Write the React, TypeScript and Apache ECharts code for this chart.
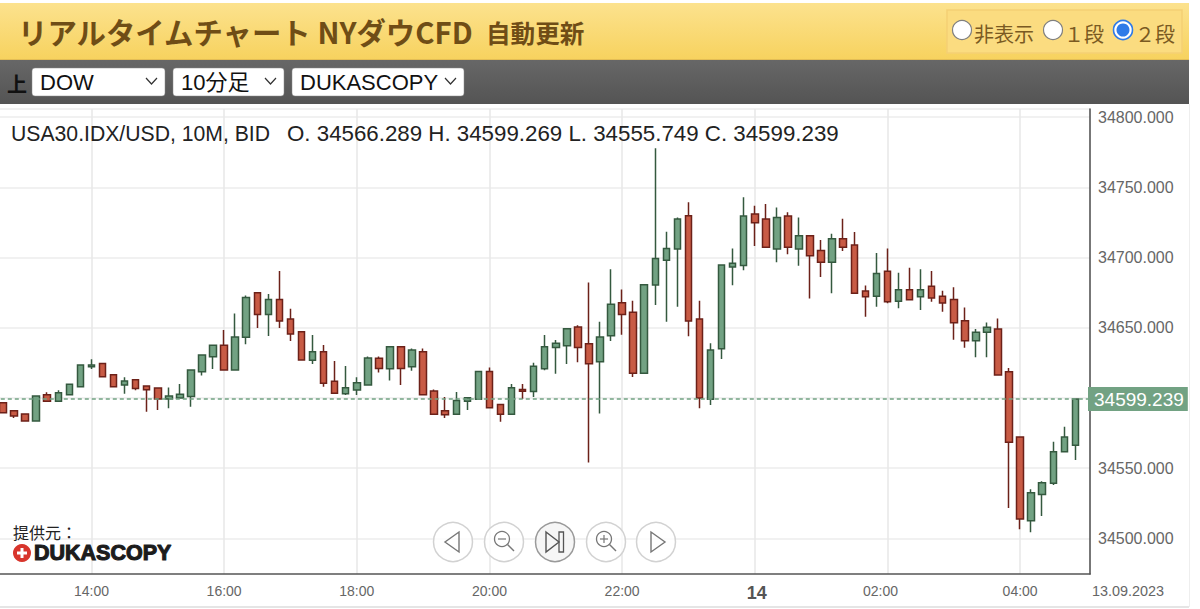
import React, { useEffect, useRef } from "react";
import * as echarts from "echarts";

const FIRST_MINUTE = 40; // minutes after 12:00 of the first 10-minute candle (12:40)
const STEP_MINUTES = 10;

const opens = [34596.6,34590.9,34588.6,34583.6,34602.3,34597.6,34602.3,34608,34622.3,34624.6,34616.6,34609.2,34613,34608.5,34607.1,34599.2,34600,34601.1,34618.7,34629.4,34637.5,34619.9,34643.2,34675,34659.5,34670.2,34656.2,34647.2,34626.8,34632.9,34611.8,34603,34605.6,34609.2,34628.2,34620.8,34636.5,34622.3,34632.9,34604.9,34590.9,34588.3,34597.6,34599,34618.9,34595.4,34588.3,34606.1,34604.5,34620.8,34636,34637.2,34650.5,34638.6,34625.8,34644.3,34667.8,34661,34617.5,34680.4,34698,34706,34729.8,34656.2,34599,34635.1,34693.2,34694.4,34731,34727.4,34706,34729.6,34706,34715.6,34705.1,34696.6,34713.4,34708.9,34676.2,34672.4,34690.2,34668.8,34677.1,34672.1,34679.5,34672.4,34670.2,34655,34640.8,34646.7,34649.1,34618.7,34572.2,34512.6,34531.3,34539.2,34561.7,34566.289];
const closes = [34589.5,34587.1,34583.6,34601.4,34597.6,34603.7,34609.7,34623.5,34623.5,34615.1,34608,34612,34606.8,34605.9,34599.2,34601.4,34602.6,34619.9,34630.6,34637.5,34619.9,34643.4,34671.6,34659.5,34670.2,34654.8,34645.5,34627,34632.9,34610.4,34603.3,34607.3,34610.9,34628.4,34621,34636.5,34621,34634.1,34602.3,34588.3,34588.1,34598.1,34600.2,34618.9,34593.1,34588.3,34607.3,34604.7,34622.5,34636.5,34638.9,34649.3,34636,34624.4,34643.4,34666.7,34659.5,34617.5,34680.7,34699.4,34706.5,34727.4,34654.8,34600,34634.1,34694.7,34695.9,34729.6,34724.8,34707.3,34728.6,34707.3,34715.6,34701.3,34696.6,34713.4,34707.3,34674.5,34672.1,34688.7,34668.6,34677.1,34670,34677.1,34671.2,34667.6,34653.6,34640.8,34646.7,34650.3,34616.3,34568.4,34513.8,34532.5,34539.6,34561.7,34572.2,34599.239];
const lows = [34589.5,34585.7,34583.6,34583.6,34597.6,34597.6,34602.3,34608,34620.6,34615.1,34608,34603,34605.4,34590.2,34591.4,34592.6,34600,34593.8,34615.9,34620.6,34619.9,34619.9,34638.2,34649.8,34644.1,34649.8,34640.5,34627,34624.2,34608,34603.3,34602.1,34602.1,34609.2,34618.2,34612.5,34609.2,34619.4,34602.3,34588.3,34585.7,34588.3,34591.4,34599,34593.1,34583.1,34588.3,34599.2,34600.7,34619.7,34617.3,34624.2,34625.4,34554.1,34589,34640.5,34645,34614.9,34617.5,34666.2,34654.3,34665,34643.9,34592.6,34595,34627.7,34680.2,34690.9,34708.2,34707.3,34696.6,34702.3,34694.2,34670.9,34686.1,34674.5,34704.6,34674.5,34657.9,34665,34667.4,34663.8,34670,34662.6,34668.6,34661.4,34641.5,34635.8,34628.9,34628.9,34616.3,34521.6,34506.4,34504.3,34515.9,34538,34561.7,34555.749];
const highs = [34596.6,34590.9,34588.6,34601.4,34604,34605.4,34609.7,34623.5,34627.5,34624.6,34616.6,34614.7,34613,34608.5,34607.1,34607.5,34609.9,34619.9,34630.6,34637.5,34648.4,34660.2,34673,34675,34674,34690.4,34663.6,34647.2,34644.8,34637.7,34626.3,34622.7,34614.7,34629.6,34629.6,34636.5,34636.5,34635.3,34635.3,34606.1,34600.7,34604.2,34600.2,34618.9,34621.6,34595.4,34609.9,34609.9,34625.1,34644.8,34641.3,34649.3,34651.7,34682.3,34654.3,34691.6,34677.3,34669.3,34680.7,34777.8,34718.4,34728.6,34739.3,34669.3,34638.9,34694.7,34706.5,34742.9,34736.9,34738.1,34735.7,34732.2,34728.6,34715.6,34712.5,34717,34727.7,34718.2,34680,34703.2,34706.5,34689.2,34692.8,34691.6,34690.4,34676.4,34678.8,34664.5,34649.1,34653.8,34656.5,34621.3,34572.2,34534.9,34540.6,34568.8,34579.5,34599.269];

const priceTicks = [34500, 34550, 34600, 34650, 34700, 34750, 34800];
const priceLabels = [34500, 34550, 34650, 34700, 34750, 34800];
const timeTickValues = [120, 240, 360, 480, 600, 720, 840, 960];
const timeTickLabels = ["14:00", "16:00", "18:00", "20:00", "22:00", "14", "02:00", "04:00"];
const lastPrice = 34599.239;
const infoInstrument = "USA30.IDX/USD, 10M, BID";
const infoPrices = "O. 34566.289 H. 34599.269 L. 34555.749 C. 34599.239";

const Y_MIN = 34474.6;
const Y_MAX = 34805.8;
const X_MAX = 1023.2;

const SANS = '"Liberation Sans", Arial, sans-serif';
const JP = '"Noto Sans CJK JP", sans-serif';

function text(x: number, y: number, t: string, font: string, fill: string, extra: any = {}) {
  return { type: "text", x, y, z: 20, silent: true, style: { text: t, font, fill, verticalAlign: "middle", ...extra } };
}
function rect(x: number, y: number, w: number, h: number, style: any, r = 0, z = 5) {
  return { type: "rect", z, silent: true, shape: { x, y, width: w, height: h, r }, style };
}
function line(x1: number, y1: number, x2: number, y2: number, stroke: string, lineWidth = 1.4) {
  return { type: "line", z: 22, silent: true, shape: { x1, y1, x2, y2 }, style: { stroke, lineWidth, fill: "none" } };
}
function circle(cx: number, cy: number, r: number, fill: string, stroke: string, lineWidth = 1.5, z = 21) {
  return { type: "circle", z, silent: true, shape: { cx, cy, r }, style: { fill, stroke, lineWidth } };
}
function poly(points: number[][], stroke: string) {
  return { type: "polygon", z: 22, silent: true, shape: { points }, style: { fill: "none", stroke, lineWidth: 1.4 } };
}
function selectBox(x: number, w: number, label: string) {
  const right = x + w;
  return [
    rect(x, 68, w, 28, { fill: "#ffffff", stroke: "#8a8a8a", lineWidth: 0.5 }, 3, 6),
    text(x + 8, 82, label, `22px ${SANS}, "Noto Sans CJK JP"`, "#111111"),
    { type: "polyline", z: 22, silent: true, shape: { points: [[right - 19, 78], [right - 13.5, 84], [right - 8, 78]] }, style: { stroke: "#333333", lineWidth: 1.2, fill: "none" } },
  ];
}
function zoomIcon(cx: number, plus: boolean) {
  const out: any[] = [
    circle(cx - 2, 539, 7.5, "none", "#777777", 1.3, 22),
    line(cx + 3.5, 544.5, cx + 10, 551, "#777777"),
    line(cx - 6, 539, cx + 2, 539, "#777777", 1.2),
  ];
  if (plus) out.push(line(cx - 2, 535, cx - 2, 543, "#777777", 1.2));
  return out;
}

export default function App() {
  const ref = useRef<HTMLDivElement>(null);
  useEffect(() => {
    document.body.style.margin = "0";
    document.body.style.background = "#ffffff";
    const chart = echarts.init(ref.current!, undefined, { renderer: "svg" });
    const rows = opens.map((o, i) => [FIRST_MINUTE + i * STEP_MINUTES, o, closes[i], lows[i], highs[i]]);
    chart.setOption({
      animation: false,
      backgroundColor: "#ffffff",
      grid: { left: -41.2, top: 109, width: 1131.2, height: 465, containLabel: false, outerBoundsMode: "none" },
      xAxis: {
        type: "value",
        min: 0,
        max: X_MAX,
        position: "bottom",
        axisLine: { show: true, onZero: false, lineStyle: { color: "#555555", width: 1.6 } },
        axisTick: { show: false, customValues: [...timeTickValues] },
        splitLine: { show: true, lineStyle: { color: "#e9e9e9", width: 1.6 } },
        axisLabel: {
          customValues: timeTickValues,
          margin: 10,
          color: "#666666",
          fontFamily: SANS,
          fontSize: 14,
          hideOverlap: false,
          formatter: (v: number) => {
            const t = timeTickLabels[timeTickValues.indexOf(v)] ?? "";
            if (t === "14") return "{day|14}";
            if (t === "02:00") return "{shift|02:00}";
            return t;
          },
          rich: {
            day: { fontFamily: SANS, fontSize: 18, fontWeight: "bold", color: "#555555", padding: [0, 0, 0, 4] },
            shift: { fontFamily: SANS, fontSize: 14, color: "#666666", padding: [0, 14, 0, 0] },
          },
        },
      },
      yAxis: {
        type: "value",
        position: "right",
        min: Y_MIN,
        max: Y_MAX,
        axisLine: { show: true, onZero: false, lineStyle: { color: "#555555", width: 1.6 } },
        axisTick: { show: false, customValues: [...priceTicks, Y_MAX] },
        splitLine: { show: true, lineStyle: { color: "#ededed", width: 1.6 } },
        axisLabel: {
          customValues: priceLabels,
          margin: 8,
          color: "#666666",
          fontFamily: SANS,
          fontSize: 16,
          formatter: (v: number) => v.toFixed(3),
        },
      },
      series: [
        {
          type: "candlestick",
          silent: true,
          barWidth: 7,
          data: rows,
          itemStyle: {
            color: "#72a283",
            color0: "#c85b45",
            borderColor: "#34593f",
            borderColor0: "#6c2119",
            borderWidth: 1.5,
          },
          markLine: {
            silent: true,
            symbol: "none",
            animation: false,
            lineStyle: { color: "#72a283", type: [4, 3], width: 1.5 },
            label: {
              show: true,
              position: "end",
              distance: -2,
              formatter: () => lastPrice.toFixed(3),
              backgroundColor: "#72a283",
              color: "#ffffff",
              fontFamily: SANS,
              fontSize: 19,
              padding: [3, 4, 2, 6],
            },
            data: [{ yAxis: lastPrice }],
          },
        },
      ],
      graphic: [
        // Header bars
        rect(0, 3, 1189, 57, { fill: new echarts.graphic.LinearGradient(0, 0, 0, 1, [{ offset: 0, color: "#fce28e" }, { offset: 1, color: "#f7d25e" }]) }),
        line(0, 59.5, 1189, 59.5, "#e3bd55", 1),
        rect(0, 60, 1189, 44, { fill: new echarts.graphic.LinearGradient(0, 0, 0, 1, [{ offset: 0, color: "#676767" }, { offset: 1, color: "#545454" }]) }),
        text(18, 31, "リアルタイムチャート NYダウCFD", `bold 29.4px ${JP}`, "#6f4d16"),
        text(486, 32, "自動更新", `bold 24.6px ${JP}`, "#6f4d16"),
        rect(947, 10, 235, 43, { fill: "#fbdc80", stroke: "#f5cf74", lineWidth: 1.5 }, 0, 6),
        circle(962, 30, 9.5, "#ffffff", "#808080", 1.2),
        text(974, 33, "非表示", `20px ${JP}`, "#7a5a22"),
        circle(1053, 30, 9.5, "#ffffff", "#808080", 1.2),
        text(1064, 33, "１段", `20px ${JP}`, "#7a5a22"),
        circle(1123, 30, 9.5, "#ffffff", "#2f7be8", 1.6),
        circle(1123, 30, 6.5, "#2f7be8", "none", 0, 22),
        text(1135, 33, "２段", `20px ${JP}`, "#7a5a22"),
        // Toolbar
        text(7, 83, "上", `bold 20px ${JP}`, "#111111"),
        ...selectBox(32, 133, "DOW"),
        ...selectBox(173, 111, "10分足"),
        ...selectBox(292, 172, "DUKASCOPY"),
        // Info and credit
        text(11, 133, infoInstrument, `21.2px ${SANS}`, "#222222"),
        text(287, 133, infoPrices, `22.3px ${SANS}`, "#222222"),
        text(13, 532, "提供元：", `16px ${JP}`, "#222222"),
        circle(22, 553, 9, "#d8352c", "none", 0),
        line(17, 553, 27, 553, "#ffffff", 3),
        line(22, 548, 22, 558, "#ffffff", 3),
        text(34, 553, "DUKASCOPY", `bold 21.5px ${SANS}`, "#1c1c1c", { stroke: "#1c1c1c", lineWidth: 1.1 }),
        // Navigation buttons
        circle(453, 542, 19.5, "rgba(255,255,255,0.75)", "#d2d2d2"),
        poly([[459, 532], [445, 542], [459, 552]], "#777777"),
        circle(504, 542, 19.5, "rgba(255,255,255,0.75)", "#d2d2d2"),
        ...zoomIcon(504, false),
        circle(555, 542, 19.5, "rgba(245,245,245,0.85)", "#9a9a9a"),
        poly([[546, 532], [559, 542], [546, 552]], "#555555"),
        rect(559, 532, 4.5, 20, { fill: "none", stroke: "#555555", lineWidth: 1.3 }, 0, 22),
        circle(606, 542, 19.5, "rgba(255,255,255,0.75)", "#d2d2d2"),
        ...zoomIcon(606, true),
        circle(656, 542, 19.5, "rgba(255,255,255,0.75)", "#d2d2d2"),
        poly([[651, 532], [665, 542], [651, 552]], "#777777"),
        // Date and frame
        text(1092, 591, "13.09.2023", `14.4px ${SANS}`, "#666666"),
        line(0, 607, 1189, 607, "#dddddd", 1.5),
        line(1189.5, 104, 1189.5, 607, "#eeeeee", 1),
      ],
    });
    return () => chart.dispose();
  }, []);
  return <div ref={ref} style={{ width: 1200, height: 609, position: "absolute", left: 0, top: 0 }} />;
}
